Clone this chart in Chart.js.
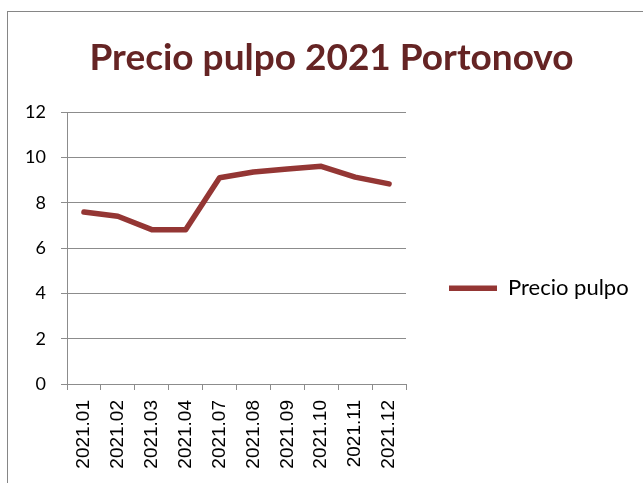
<!DOCTYPE html>
<html>
<head>
<meta charset="utf-8">
<script src="https://cdn.jsdelivr.net/npm/chart.js@4.4.1/dist/chart.umd.min.js"></script>
<style>
  html, body { margin: 0; padding: 0; background: #fff; }
  #wrap { position: relative; width: 643px; height: 483px; overflow: hidden; }
  #frame { position: absolute; left: 7px; top: 11px; width: 700px; height: 600px;
           border-left: 1px solid #868686; border-top: 1px solid #868686; }
  canvas { position: absolute; left: 0; top: 0; }
</style>
</head>
<body>
<div id="wrap">
  <div id="frame"></div>
  <canvas id="lineChart" width="643" height="483"></canvas>
</div>
<script>
const months = ['2021.01', '2021.02', '2021.03', '2021.04', '2021.07', '2021.08', '2021.09', '2021.10', '2021.11', '2021.12'];
const precioPulpo = [7.6, 7.41, 6.82, 6.81, 9.11, 9.37, 9.5, 9.62, 9.14, 8.84];
const yTicks = [0, 2, 4, 6, 8, 10, 12];

const lineColor = '#943634';
const gridColor = '#8c8c8c';

// keep the legend column a fixed width so the plot ends where it should
const legendWidth = {
  id: 'legendWidth',
  beforeInit(chart) {
    const legend = chart.legend;
    const fit = legend.fit.bind(legend);
    legend.fit = () => { fit(); legend.width = 237; };
  }
};

const ctx = document.getElementById('lineChart').getContext('2d');
let priceChart = new Chart(ctx, {
  type: 'line',
  data: {
    labels: months,
    datasets: [
      {
        label: 'Precio pulpo',
        data: precioPulpo,
        borderColor: lineColor,
        backgroundColor: lineColor,
        borderWidth: 5.5,
        borderCapStyle: 'round',
        borderJoinStyle: 'round',
        tension: 0,
        pointRadius: 0,
        pointHoverRadius: 0
      }]
  },
  plugins: [legendWidth],
  options: {
    responsive: false,
    animation: false,
    layout: { padding: { left: 20, right: 0, top: 0, bottom: 0 } },
    plugins: {
      title: {
        display: true,
        text: 'Precio pulpo 2021 Portonovo',
        color: '#652424',
        font: { family: 'Lato', size: 37, weight: 'bold', lineHeight: 1.2 },
        padding: { top: 36, bottom: 32 }
      },
      legend: {
        position: 'right',
        maxWidth: 300,
        title: { display: true, text: '', padding: { top: 79, bottom: 0 } },
        labels: {
          usePointStyle: true,
          pointStyle: 'line',
          pointStyleWidth: 48,
          padding: 43,
          color: '#000',
          font: { family: 'Lato', size: 22 }
        }
      },
      tooltip: { enabled: false }
    },
    scales: {
      x: {
        offset: true,
        grid: { offset: true, drawOnChartArea: false, color: gridColor, tickLength: 6 },
        border: { color: gridColor },
        ticks: {
          minRotation: 90, maxRotation: 90, padding: 10, color: '#000',
          font: { family: 'Liberation Sans', size: 19 }
        },
        afterFit: (scale) => { scale.height = 99; }
      },
      y: {
        min: 0,
        max: 12,
        afterBuildTicks: (scale) => { scale.ticks = yTicks.map(v => ({ value: v })); },
        grid: { color: gridColor, tickLength: 6 },
        border: { color: gridColor },
        ticks: { padding: 15, color: '#000', font: { family: 'Lato', size: 18 } },
        afterFit: (scale) => { scale.width = 47; }
      }
    }
  }
});
</script>
</body>
</html>
